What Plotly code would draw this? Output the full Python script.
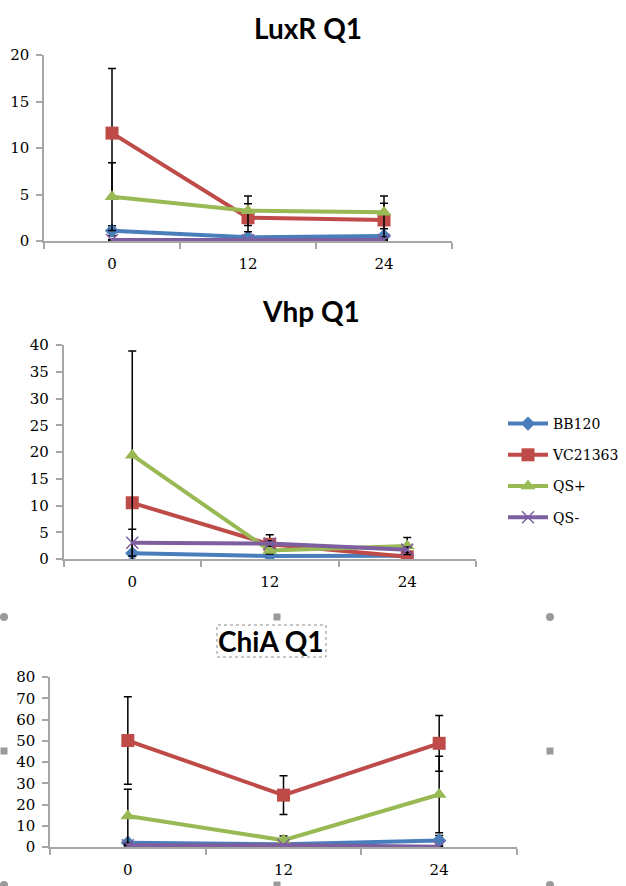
import plotly.graph_objects as go

# ---------------- data ----------------
times = ["0", "12", "24"]
series_names = ["BB120", "VC21363", "QS+", "QS-"]

# LuxR Q1
luxr_bb120 = [1.11, 0.39, 0.54]
luxr_vc21363 = [11.6, 2.5, 2.26]
luxr_qsplus = [4.77, 3.26, 3.08]
luxr_qsminus = [0.1, 0.1, 0.1]
luxr_bb120_err = [0.54, 0.15, 0.2]
luxr_vc21363_err = [6.95, 1.5, 1.8]
luxr_qsplus_err = [3.65, 1.58, 1.76]
luxr_qsminus_err = [0.05, 0.05, 0.05]

# Vhp Q1
vhp_bb120 = [1.06, 0.56, 0.6]
vhp_vc21363 = [10.5, 2.75, 0.4]
vhp_qsplus = [19.4, 1.6, 2.43]
vhp_qsminus = [3.05, 2.9, 1.75]
vhp_bb120_err = [0.4, 0.3, 0.3]
vhp_vc21363_err = [0.5, 1.8, 0.3]
vhp_qsplus_err = [19.5, 0.5, 1.57]
vhp_qsminus_err = [2.5, 0.5, 0.5]

# ChiA Q1
chia_bb120 = [2.0, 1.3, 3.1]
chia_vc21363 = [50.1, 24.4, 48.8]
chia_qsplus = [14.6, 3.2, 24.7]
chia_qsminus = [0.8, 0.9, 0.1]
chia_bb120_err = [0.5, 0.5, 2.3]
chia_vc21363_err = [20.6, 9.1, 13.1]
chia_qsplus_err = [12.6, 2.0, 18.0]
chia_qsminus_err = [0.3, 0.3, 0.1]

panel_titles = ["LuxR Q1", "Vhp Q1", "ChiA Q1"]
y_ranges = [[0, 20], [0, 40], [0, 80]]
y_dticks = [5, 5, 10]

# ---------------- styling ----------------
W, H = 626, 886
colors = ["#4A7EBB", "#BE4B48", "#98B954", "#7D5FA0"]
symbols = ["diamond", "square", "triangle-up", "x-thin"]
msizes = [11, 13, 13, 12]
serif = "DejaVu Serif"


def px_x(p):
    return p / W


def px_y(p):
    return 1 - p / H


panels = [
    dict(vals=[luxr_bb120, luxr_vc21363, luxr_qsplus, luxr_qsminus],
         errs=[luxr_bb120_err, luxr_vc21363_err, luxr_qsplus_err, luxr_qsminus_err],
         xd=[44, 452], yd=[55, 241], title_xy=(308, 28)),
    dict(vals=[vhp_bb120, vhp_vc21363, vhp_qsplus, vhp_qsminus],
         errs=[vhp_bb120_err, vhp_vc21363_err, vhp_qsplus_err, vhp_qsminus_err],
         xd=[63.5, 476], yd=[345, 559], title_xy=(311, 311)),
    dict(vals=[chia_bb120, chia_vc21363, chia_qsplus, chia_qsminus],
         errs=[chia_bb120_err, chia_vc21363_err, chia_qsplus_err, chia_qsminus_err],
         xd=[50, 517], yd=[677, 847], title_xy=(271, 641)),
]

fig = go.Figure()
layout = dict(
    template="none",
    width=W, height=H,
    margin=dict(l=0, r=0, t=0, b=0, autoexpand=False),
    paper_bgcolor="white", plot_bgcolor="white",
    showlegend=True,
    legend=dict(x=px_x(503), y=px_y(408), xanchor="left", yanchor="top",
                font=dict(family=serif, size=14, color="#000"),
                traceorder="grouped", tracegroupgap=10,
                itemwidth=40, bgcolor="rgba(0,0,0,0)", borderwidth=0),
    annotations=[], shapes=[],
)

for pi, p in enumerate(panels):
    sfx = "" if pi == 0 else str(pi + 1)
    xa, ya = "x" + sfx, "y" + sfx
    for si in range(4):
        fig.add_trace(go.Scatter(
            x=times, y=p["vals"][si], name=series_names[si],
            xaxis=xa, yaxis=ya, mode="lines+markers",
            legendgroup=series_names[si], showlegend=(pi == 0),
            line=dict(color=colors[si], width=4),
            marker=dict(symbol=symbols[si], size=msizes[si], color=colors[si],
                        line=dict(color=colors[si], width=1.5 if si == 3 else 0)),
            error_y=dict(type="data", array=p["errs"][si], symmetric=True,
                         color="black", thickness=1.5, width=4),
        ))
    layout["xaxis" + sfx] = dict(
        domain=[px_x(p["xd"][0]), px_x(p["xd"][1])],
        anchor=ya, type="category", range=[-0.5, 2.5], automargin=False,
        showline=True, linecolor="#A6A6A6", linewidth=1.5,
        ticks="outside", tickson="boundaries", ticklen=6, tickcolor="#A6A6A6",
        tickwidth=1.5, showgrid=False, zeroline=False,
        tickfont=dict(family=serif, size=15, color="#000"),
        ticklabelstandoff=8, fixedrange=True,
    )
    layout["yaxis" + sfx] = dict(
        domain=[px_y(p["yd"][1]), px_y(p["yd"][0])],
        anchor=xa, range=y_ranges[pi], dtick=y_dticks[pi], tick0=0, automargin=False,
        showline=True, linecolor="#A6A6A6", linewidth=1.5,
        ticks="outside", ticklen=6, tickcolor="#A6A6A6", tickwidth=1.5,
        showgrid=False, zeroline=False,
        tickfont=dict(family=serif, size=15, color="#000"),
        ticklabelstandoff=4, fixedrange=True,
    )
    tx, ty = p["title_xy"]
    layout["annotations"].append(dict(
        text=panel_titles[pi], x=px_x(tx), y=px_y(ty), xref="paper", yref="paper",
        xanchor="center", yanchor="middle", showarrow=False,
        font=dict(family="Lato", size=28, color="#000", weight="bold"),
    ))

# dotted selection box around the ChiA title
layout["shapes"].append(dict(type="rect", xref="paper", yref="paper",
                             x0=px_x(217), x1=px_x(326), y0=px_y(657), y1=px_y(625),
                             line=dict(color="#8C8C8C", width=1, dash="dot")))
# selection handles
for (hx, hy, kind) in [(4, 617, "c"), (277, 617, "s"), (550, 617, "c"),
                       (4, 751, "s"), (550, 751, "s"),
                       (4, 885, "c"), (277, 885, "s"), (550, 885, "c")]:
    r = 4 if kind == "c" else 3.5
    layout["shapes"].append(dict(
        type="circle" if kind == "c" else "rect", xref="paper", yref="paper",
        x0=px_x(hx - r), x1=px_x(hx + r), y0=px_y(hy + r), y1=px_y(hy - r),
        fillcolor="#9A9A9A", line=dict(width=0)))

fig.update_layout(**layout)
fig.write_html("out.html", config={"displayModeBar": False},
               post_script="document.body.style.margin='0';document.body.style.overflow='hidden';")
